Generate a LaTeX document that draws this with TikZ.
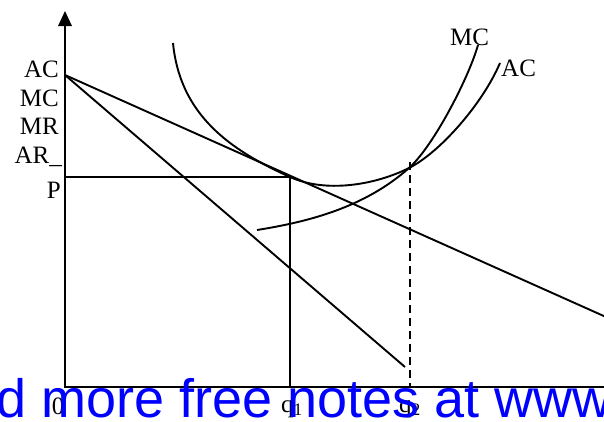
\documentclass[tikz,border=0pt]{standalone}
\usepackage{fontspec}
\setmainfont{Liberation Serif}
\newfontfamily\wmfont{Liberation Sans}
\begin{document}
\begin{tikzpicture}[x=1pt,y=-1pt,
  curve/.style={line width=1.9pt},
  axis/.style={line width=2pt},
  lbl/.style={inner sep=0pt,font=\fontsize{25}{25}\selectfont},
  wm/.style={inner sep=0pt,anchor=base west,text=blue,font=\wmfont\fontsize{54}{54}\selectfont}]
\path[use as bounding box] (0,0) rectangle (604,421);
% coordinates
\coordinate (O) at (65,387);
\coordinate (Ytop) at (65,25);
\coordinate (Xend) at (606,387);
\coordinate (A) at (65,75);
\coordinate (ARend) at (606,317);
\coordinate (MRend) at (405,367);
\coordinate (E) at (290,177);
\coordinate (Pp) at (65,177);
\coordinate (Q1) at (290,387);
\coordinate (D) at (410,162);
\coordinate (Q2) at (410,387);
\coordinate (X) at (409,168);
\coordinate (ACs) at (173,43);
\coordinate (ACe) at (500,63);
\coordinate (MCs) at (257,230);
\coordinate (MCe) at (478,45);
% axes
\draw[axis] (Ytop) -- (O) -- (Xend);
\fill (65,11) -- (58,26) -- (72,26) -- cycle;
% lines
\draw[curve] (A) -- (ARend);
\draw[curve] (A) -- (MRend);
\draw[curve] (Pp) -- (E) -- (Q1);
\draw[curve,dash pattern=on 8pt off 5pt] (D) -- (Q2);
% AC curve
\draw[curve] (ACs) .. controls (180,115) and (230,150) .. (E)
  .. controls (325,193) and (374,185.5) .. (X)
  .. controls (439,153) and (482,105) .. (ACe);
% MC curve
\draw[curve] (MCs) .. controls (307,222) and (364,208) .. (X)
  .. controls (434,145.5) and (469,77) .. (MCe);
% labels
\node[lbl,anchor=base east] (lAC) at (59,77) {AC};
\node[lbl,anchor=base east] (lMC) at (59,106) {MC};
\node[lbl,anchor=base east] (lMR) at (59,134) {MR};
\node[lbl,anchor=base east] (lAR) at (62,163) {AR\_};
\node[lbl,anchor=base east] (lP) at (61,198) {P};
\node[lbl,anchor=base west] (tMC) at (450,45) {MC};
\node[lbl,anchor=base west] (tAC) at (501,76) {AC};
\node[lbl,anchor=base] (l0) at (58,414) {0};
\node[lbl,anchor=base] (lq1) at (292,412) {q\textsubscript{1}};
\node[lbl,anchor=base] (lq2) at (410,412) {q\textsubscript{2}};
% watermark
\node[wm] (w) at (-4,417) {d more free notes at www};
\end{tikzpicture}
\end{document}
